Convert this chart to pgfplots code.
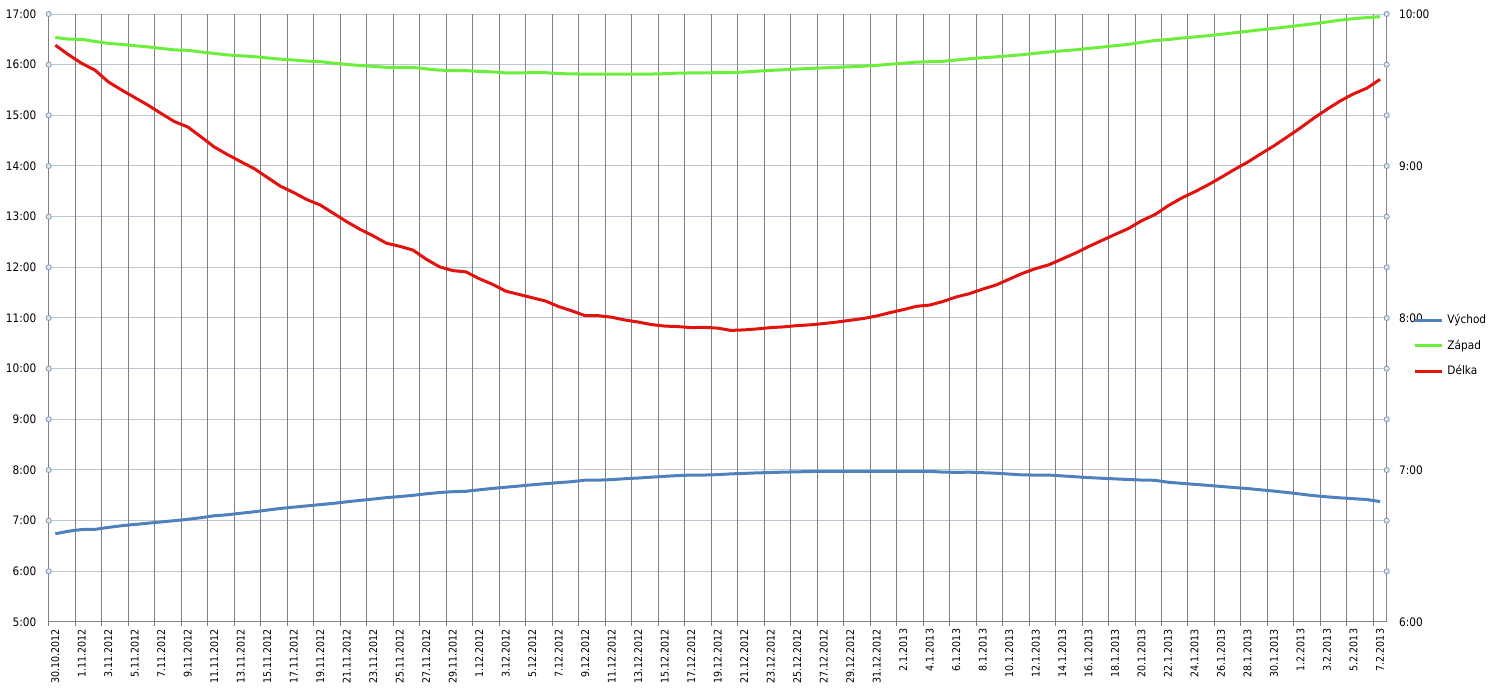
\documentclass[border=0pt]{standalone}
\usepackage{fontspec}
\setmainfont{DejaVu Sans Condensed}
\usepackage{pgfplots}
\pgfplotsset{compat=1.18}
\usepackage{pgfplotstable}
\definecolor{cBlue}{HTML}{4F81BD}
\definecolor{cGreen}{HTML}{6CEF3C}
\definecolor{cRed}{HTML}{E2120F}
\definecolor{vgrid}{HTML}{808080}
\definecolor{hgrid}{HTML}{BCC7D2}
\definecolor{axgray}{HTML}{868686}
\definecolor{circ}{HTML}{7D9BB8}
\definecolor{circfill}{HTML}{DCE6F0}

% d = day index (0 = 30.10.2012), times in minutes after midnight
\pgfplotstableread{
d vychod zapad delka
0 404.5 992.2 587.7
1 407.5 990.2 583.9
2 409.5 990.0 580.5
3 409.7 987.5 577.8
4 412.0 985.2 573.2
5 414.0 984.0 570.0
6 415.5 982.5 567.0
7 417.0 981.0 564.0
8 418.5 979.2 560.7
9 420.0 977.5 557.5
10 421.6 977.0 555.4
11 423.5 975.0 551.5
12 425.8 973.3 547.5
13 427.0 971.5 544.5
14 428.8 970.5 541.7
15 430.5 969.5 539.0
16 432.5 968.0 535.5
17 434.5 966.5 532.0
18 436.0 965.5 529.5
19 437.5 964.2 526.7
20 439.0 963.6 524.6
21 440.5 961.8 521.3
22 442.3 960.3 518.0
23 444.0 959.0 515.0
24 445.6 958.0 512.4
25 447.3 956.8 509.5
26 448.5 956.8 508.3
27 450.0 956.8 506.8
28 451.8 955.0 503.2
29 453.3 953.5 500.2
30 454.3 953.0 498.7
31 454.8 953.0 498.2
32 456.5 952.0 495.5
33 458.2 951.5 493.3
34 459.6 950.2 490.6
35 461.0 950.3 489.3
36 462.5 950.5 488.0
37 463.8 950.5 486.7
38 465.0 949.5 484.5
39 466.2 949.0 482.8
40 468.0 948.9 480.9
41 468.0 948.9 480.9
42 468.6 948.9 480.3
43 469.7 948.9 479.2
44 470.5 948.9 478.4
45 471.5 948.9 477.4
46 472.5 949.3 476.8
47 473.4 950.0 476.6
48 474.0 950.2 476.2
49 474.0 950.3 476.3
50 474.5 950.5 476.0
51 475.4 950.5 475.1
52 476.0 951.3 475.3
53 476.6 952.3 475.7
54 477.0 953.2 476.2
55 477.5 954.0 476.5
56 477.8 954.8 477.0
57 478.2 955.5 477.3
58 478.4 956.2 477.8
59 478.4 956.8 478.4
60 478.4 957.5 479.1
61 478.4 958.2 479.8
62 478.4 959.2 480.8
63 478.4 960.5 482.1
64 478.4 961.7 483.3
65 478.4 963.0 484.6
66 478.4 963.5 485.1
67 477.5 964.0 486.5
68 477.2 965.5 488.3
69 477.4 967.0 489.6
70 476.8 968.2 491.4
71 476.2 969.2 493.0
72 475.2 970.5 495.3
73 474.2 971.8 497.6
74 474.0 973.5 499.5
75 474.0 975.0 501.0
76 473.0 976.3 503.3
77 472.0 977.6 505.6
78 471.0 979.2 508.2
79 470.2 980.8 510.6
80 469.5 982.5 513.0
81 468.7 984.0 515.3
82 468.1 986.5 518.4
83 467.8 988.6 520.8
84 465.5 989.8 524.3
85 464.2 991.5 527.3
86 463.0 992.8 529.8
87 461.8 994.3 532.5
88 460.5 996.0 535.5
89 459.2 997.8 538.6
90 458.0 999.5 541.5
91 456.5 1001.3 544.8
92 455.0 1003.0 548.0
93 453.3 1004.8 551.5
94 451.5 1006.6 555.1
95 449.6 1008.5 558.9
96 448.2 1010.6 562.4
97 447.0 1012.7 565.7
98 446.0 1014.5 568.5
99 445.0 1015.7 570.7
100 442.6 1016.8 574.2
}\data

\pgfplotstableread{
x y
-0.5 360
-0.5 420
-0.5 480
-0.5 540
-0.5 600
-0.5 660
-0.5 720
-0.5 780
-0.5 840
-0.5 900
-0.5 960
-0.5 1020
}\leftcircles

\pgfplotstableread{
x y
100.5 380
100.5 400
100.5 420
100.5 440
100.5 460
100.5 480
100.5 500
100.5 520
100.5 540
100.5 560
100.5 580
100.5 600
}\rightcircles

\begin{document}
\begin{tikzpicture}
\path[use as bounding box] (-24.35pt,-38.5pt) rectangle (725.65pt,311pt);
\begin{axis}[
  scale only axis, width=669pt, height=304pt,
  at={(0pt,0pt)}, anchor=south west,
  xmin=-0.5, xmax=100.5, ymin=300, ymax=1020,
  axis x line*=bottom, axis y line*=left,
  axis line style={axgray, line width=0.5pt},
  clip=false,
  xtick={0,2,...,100},
  xticklabels={30.10.2012, 1.11.2012, 3.11.2012, 5.11.2012, 7.11.2012, 9.11.2012, 11.11.2012, 13.11.2012, 15.11.2012, 17.11.2012, 19.11.2012, 21.11.2012, 23.11.2012, 25.11.2012, 27.11.2012, 29.11.2012, 1.12.2012, 3.12.2012, 5.12.2012, 7.12.2012, 9.12.2012, 11.12.2012, 13.12.2012, 15.12.2012, 17.12.2012, 19.12.2012, 21.12.2012, 23.12.2012, 25.12.2012, 27.12.2012, 29.12.2012, 31.12.2012, 2.1.2013, 4.1.2013, 6.1.2013, 8.1.2013, 10.1.2013, 12.1.2013, 14.1.2013, 16.1.2013, 18.1.2013, 20.1.2013, 22.1.2013, 24.1.2013, 26.1.2013, 28.1.2013, 30.1.2013, 1.2.2013, 3.2.2013, 5.2.2013, 7.2.2013},
  major x tick style={draw=none},
  xmajorgrids=false,
  xtick align=outside,
  xticklabel style={rotate=90, anchor=east, font=\fontsize{5.3}{6.2}\selectfont, inner sep=0pt},
  xticklabel shift=-1pt,
  extra x ticks={-0.5,1.5,...,99.5},
  extra x tick labels={},
  extra x tick style={grid=major, major tick length=2pt, major x tick style={draw=vgrid, line width=0.5pt}, major grid style={vgrid, line width=0.5pt}},
  ytick={300,360,...,1020},
  yticklabels={5:00,6:00,7:00,8:00,9:00,10:00,11:00,12:00,13:00,14:00,15:00,16:00,17:00},
  yticklabel style={font=\fontsize{5.85}{7}\selectfont, inner sep=0pt, xshift=-6pt},
  major y tick style={draw=none},
  ymajorgrids=true,
  y grid style={hgrid, line width=0.5pt},
]
\addplot[cBlue, line width=1.5pt, line join=round] table[x=d, y=vychod] {\data};
\addplot[cGreen, line width=1.5pt, line join=round] table[x=d, y=zapad] {\data};
\addplot[only marks, mark=*, mark size=1.3pt, mark options={draw=circ, fill=circfill, line width=0.4pt}] table[x=x, y=y] {\leftcircles};
\end{axis}
\begin{axis}[
  scale only axis, width=669pt, height=304pt,
  at={(0pt,0pt)}, anchor=south west,
  xmin=-0.5, xmax=100.5, ymin=360, ymax=600,
  axis x line=none, axis y line*=right,
  axis line style={axgray, line width=0.5pt},
  clip=false,
  ytick={360,380,...,600},
  yticklabels={6:00,,,7:00,,,8:00,,,9:00,,,10:00},
  yticklabel style={font=\fontsize{5.85}{7}\selectfont, inner sep=0pt, xshift=6pt},
  major y tick style={draw=none},
  legend style={draw=none, fill=none, at={(1.0197,0.454)}, anchor=west,
    font=\fontsize{5.85}{7}\selectfont, row sep=2.5pt, inner sep=0pt},
  legend cell align=left,
  legend image code/.code={\draw[#1] (0pt,0pt) -- (13.5pt,0pt);},
]
\addlegendimage{cBlue, line width=1.5pt}
\addlegendentry{Východ}
\addlegendimage{cGreen, line width=1.5pt}
\addlegendentry{Západ}
\addplot[cRed, line width=1.5pt, line join=round] table[x=d, y=delka] {\data};
\addlegendentry{Délka}
\addplot[forget plot, only marks, mark=*, mark size=1.3pt, mark options={draw=circ, fill=circfill, line width=0.4pt}] table[x=x, y=y] {\rightcircles};
\end{axis}
\end{tikzpicture}
\end{document}
